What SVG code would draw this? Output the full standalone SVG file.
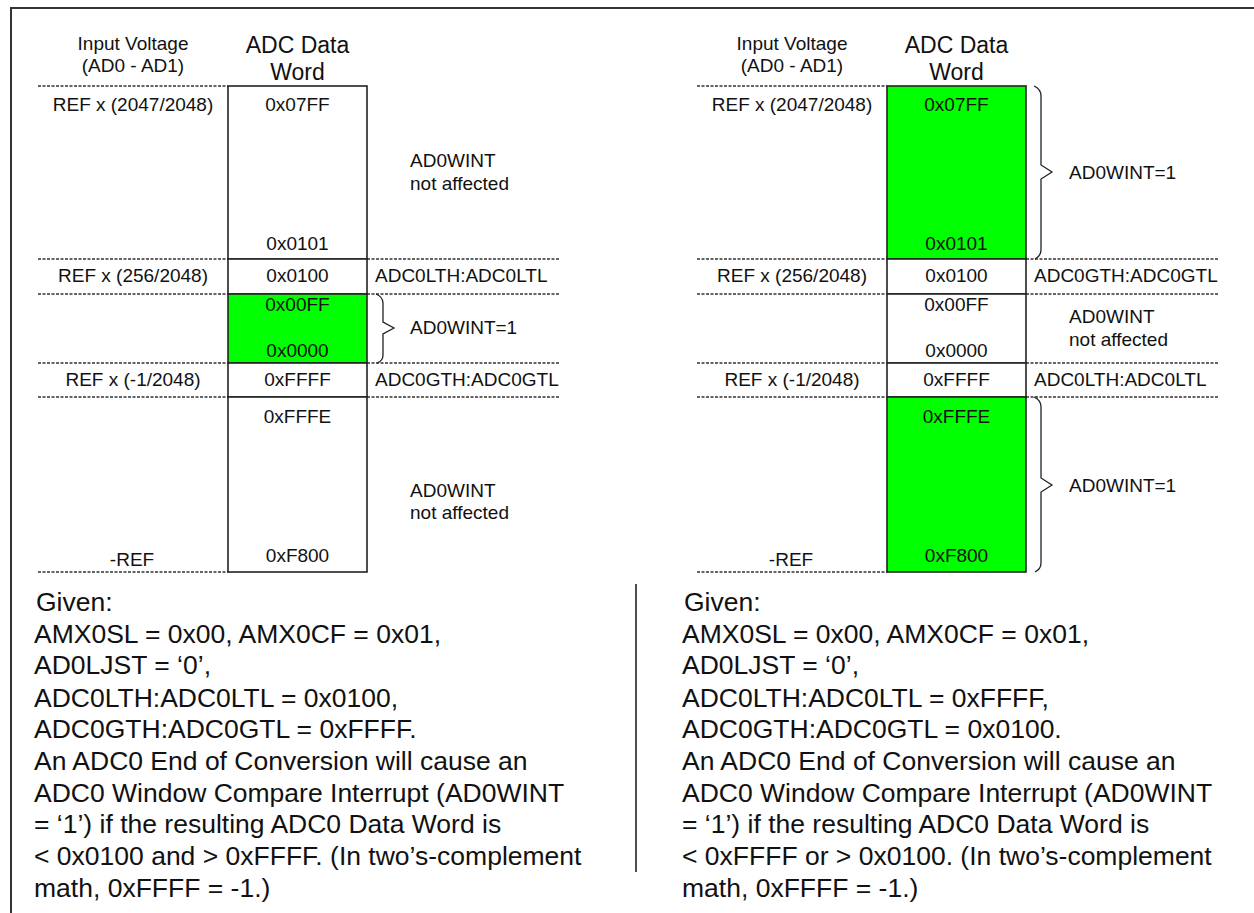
<svg xmlns="http://www.w3.org/2000/svg" width="1254" height="913" viewBox="0 0 1254 913">
<style>
.lbl{font-family:"Liberation Sans",Arial,sans-serif;font-size:19px;fill:#111}
.c{text-anchor:middle}
.hdr{font-family:"Liberation Sans",Arial,sans-serif;font-size:23px;fill:#111;text-anchor:middle}
.body{font-family:"Liberation Sans",Arial,sans-serif;font-size:26.5px;fill:#111}
.box{stroke:#222;stroke-width:1.6;fill:#fff}
.grn{stroke:#222;stroke-width:1.6;fill:#00ff00}
.dash{stroke:#333;stroke-width:1.3;stroke-dasharray:3 1.5;fill:none}
.brace{stroke:#222;stroke-width:1.3;fill:none}
.frame{stroke:#333;stroke-width:2;fill:none}
</style>
<rect width="1254" height="913" fill="#fff"/>
<path class="frame" d="M10,8 H1254 M11,8 V913"/>
<line x1="636" y1="584" x2="636" y2="872" stroke="#222" stroke-width="1.6"/>

<g id="guides">
  <path class="dash" d="M38,86 H228 M38,259 H228 M367,259 H559 M38,294 H228 M367,294 H559 M38,363 H228 M367,363 H559 M38,397 H228 M367,397 H559 M38,572 H228"/>
  <path class="dash" d="M697,86 H887 M697,259 H887 M1026,259 H1218 M697,294 H887 M1026,294 H1218 M697,363 H887 M1026,363 H1218 M697,397 H887 M1026,397 H1218 M697,572 H887"/>
</g>

<g id="left-headers">
  <text class="lbl c" x="133" y="50">Input Voltage</text>
  <text class="lbl c" x="133" y="72">(AD0 - AD1)</text>
  <text class="hdr" x="297.5" y="53">ADC Data</text>
  <text class="hdr" x="297.5" y="80">Word</text>
</g>
<g id="left-top">
  <rect class="box" x="228" y="86" width="139" height="173"/>
  <text class="lbl c" x="133" y="111">REF x (2047/2048)</text>
  <text class="lbl c" x="297.5" y="111">0x07FF</text>
  <text class="lbl c" x="297.5" y="250">0x0101</text>
  <text class="lbl" x="410" y="167">AD0WINT</text>
  <text class="lbl" x="410" y="190">not affected</text>
</g>
<g id="left-lt">
  <rect class="box" x="228" y="259" width="139" height="35"/>
  <text class="lbl c" x="133" y="282">REF x (256/2048)</text>
  <text class="lbl c" x="297.5" y="282">0x0100</text>
  <text class="lbl" x="375" y="282">ADC0LTH:ADC0LTL</text>
</g>
<g id="left-mid">
  <rect class="grn" x="228" y="294" width="139" height="69"/>
  <text class="lbl c" x="297.5" y="311">0x00FF</text>
  <text class="lbl c" x="297.5" y="357">0x0000</text>
  <text class="lbl" x="410" y="334">AD0WINT=1</text>
</g>
<g id="left-gt">
  <rect class="box" x="228" y="363" width="139" height="34"/>
  <text class="lbl c" x="133" y="386">REF x (-1/2048)</text>
  <text class="lbl c" x="297.5" y="386">0xFFFF</text>
  <text class="lbl" x="375" y="386">ADC0GTH:ADC0GTL</text>
</g>
<g id="left-bottom">
  <rect class="box" x="228" y="397" width="139" height="175"/>
  <text class="lbl c" x="297.5" y="423">0xFFFE</text>
  <text class="lbl c" x="297.5" y="562">0xF800</text>
  <text class="lbl c" x="132" y="566">-REF</text>
  <text class="lbl" x="410" y="497">AD0WINT</text>
  <text class="lbl" x="410" y="519">not affected</text>
</g>

<g id="right-headers">
  <text class="lbl c" x="792" y="50">Input Voltage</text>
  <text class="lbl c" x="792" y="72">(AD0 - AD1)</text>
  <text class="hdr" x="956.5" y="53">ADC Data</text>
  <text class="hdr" x="956.5" y="80">Word</text>
</g>
<g id="right-top">
  <rect class="grn" x="887" y="86" width="139" height="173"/>
  <text class="lbl c" x="792" y="111">REF x (2047/2048)</text>
  <text class="lbl c" x="956.5" y="111">0x07FF</text>
  <text class="lbl c" x="956.5" y="250">0x0101</text>
  <text class="lbl" x="1069" y="179">AD0WINT=1</text>
</g>
<g id="right-gt">
  <rect class="box" x="887" y="259" width="139" height="35"/>
  <text class="lbl c" x="792" y="282">REF x (256/2048)</text>
  <text class="lbl c" x="956.5" y="282">0x0100</text>
  <text class="lbl" x="1034" y="282">ADC0GTH:ADC0GTL</text>
</g>
<g id="right-mid">
  <rect class="box" x="887" y="294" width="139" height="69"/>
  <text class="lbl c" x="956.5" y="311">0x00FF</text>
  <text class="lbl c" x="956.5" y="357">0x0000</text>
  <text class="lbl" x="1069" y="323">AD0WINT</text>
  <text class="lbl" x="1069" y="346">not affected</text>
</g>
<g id="right-lt">
  <rect class="box" x="887" y="363" width="139" height="34"/>
  <text class="lbl c" x="792" y="386">REF x (-1/2048)</text>
  <text class="lbl c" x="956.5" y="386">0xFFFF</text>
  <text class="lbl" x="1034" y="386">ADC0LTH:ADC0LTL</text>
</g>
<g id="right-bottom">
  <rect class="grn" x="887" y="397" width="139" height="175"/>
  <text class="lbl c" x="956.5" y="423">0xFFFE</text>
  <text class="lbl c" x="956.5" y="562">0xF800</text>
  <text class="lbl c" x="791" y="566">-REF</text>
  <text class="lbl" x="1069" y="492">AD0WINT=1</text>
</g>

<g id="connectors">
  <path class="brace" d="M376,294 Q383,297 383,303 L383,322 L394,328 L383,334 L383,355 Q383,361 377,363"/>
  <path class="brace" d="M1034,86 Q1041,89 1041,96 L1041,165 L1052,172 L1041,179 L1041,250 Q1041,256 1035,259"/>
  <path class="brace" d="M1034,397 Q1041,400 1041,407 L1041,478 L1052,485 L1041,492 L1041,563 Q1041,569 1035,572"/>
</g>

<g id="left-note">
  <text class="body" x="36" y="611">Given:</text>
  <text class="body" x="34" y="643">AMX0SL = 0x00, AMX0CF = 0x01,</text>
  <text class="body" x="34" y="674">AD0LJST = ‘0’,</text>
  <text class="body" x="34" y="707">ADC0LTH:ADC0LTL = 0x0100,</text>
  <text class="body" x="34" y="738">ADC0GTH:ADC0GTL = 0xFFFF.</text>
  <text class="body" x="34" y="770">An ADC0 End of Conversion will cause an</text>
  <text class="body" x="34" y="802">ADC0 Window Compare Interrupt (AD0WINT</text>
  <text class="body" x="34" y="833">= ‘1’) if the resulting ADC0 Data Word is</text>
  <text class="body" x="34" y="865">&lt; 0x0100 and &gt; 0xFFFF. (In two’s-complement</text>
  <text class="body" x="34" y="897">math, 0xFFFF = -1.)</text>
</g>
<g id="right-note">
  <text class="body" x="684" y="611">Given:</text>
  <text class="body" x="682" y="643">AMX0SL = 0x00, AMX0CF = 0x01,</text>
  <text class="body" x="682" y="674">AD0LJST = ‘0’,</text>
  <text class="body" x="682" y="707">ADC0LTH:ADC0LTL = 0xFFFF,</text>
  <text class="body" x="682" y="738">ADC0GTH:ADC0GTL = 0x0100.</text>
  <text class="body" x="682" y="770">An ADC0 End of Conversion will cause an</text>
  <text class="body" x="682" y="802">ADC0 Window Compare Interrupt (AD0WINT</text>
  <text class="body" x="682" y="833">= ‘1’) if the resulting ADC0 Data Word is</text>
  <text class="body" x="682" y="865">&lt; 0xFFFF or &gt; 0x0100. (In two’s-complement</text>
  <text class="body" x="682" y="897">math, 0xFFFF = -1.)</text>
</g>
</svg>
